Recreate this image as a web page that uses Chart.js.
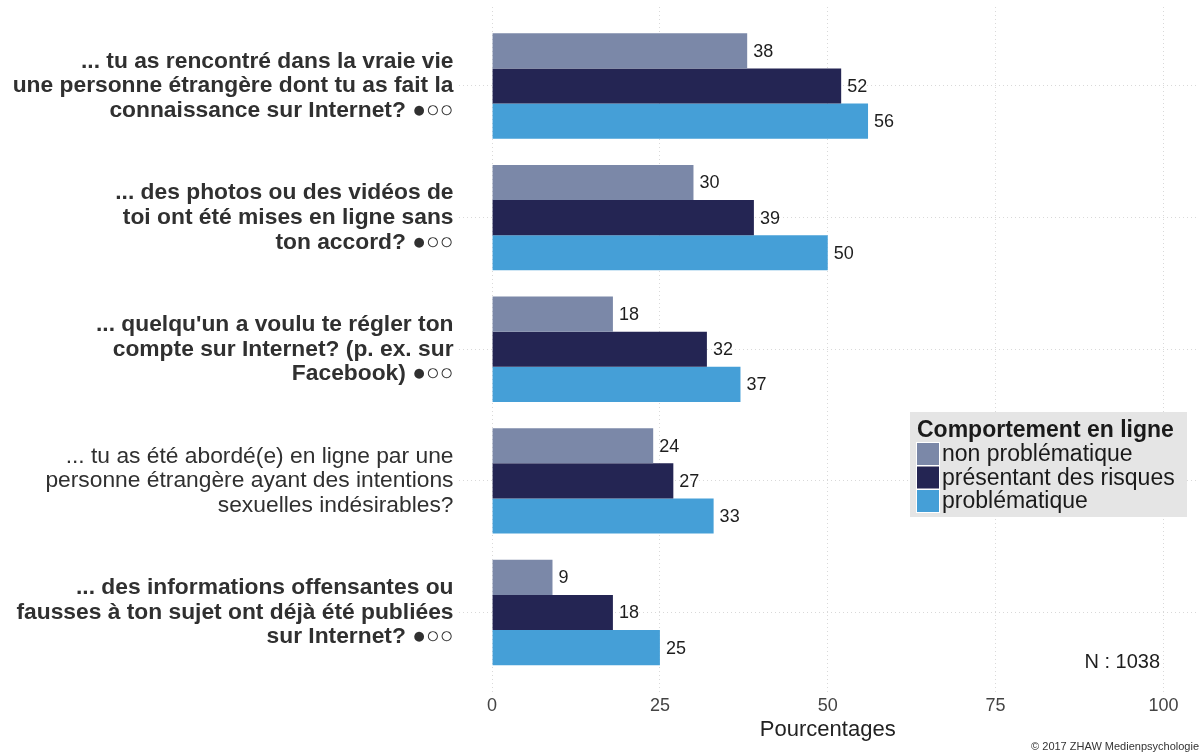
<!DOCTYPE html>
<html lang="fr">
<head>
<meta charset="utf-8">
<title>Comportement en ligne</title>
<script src="https://cdn.jsdelivr.net/npm/chart.js@4/dist/chart.umd.min.js"></script>
<style>
    html, body { margin: 0; padding: 0; background: #fff; }
    #wrap { width: 1203px; height: 754px; position: relative; }
</style>
</head>
<body>
<div id="wrap"><canvas id="chart" width="1203" height="754"></canvas></div>
<script>
// Questions (y axis), top to bottom
const questions = [
    ['... tu as rencontré dans la vraie vie', 'une personne étrangère dont tu as fait la', 'connaissance sur Internet? ●○○'],
    ['... des photos ou des vidéos de', 'toi ont été mises en ligne sans', 'ton accord? ●○○'],
    ["... quelqu'un a voulu te régler ton", 'compte sur Internet? (p. ex. sur', 'Facebook) ●○○'],
    ['... tu as été abordé(e) en ligne par une', 'personne étrangère ayant des intentions', 'sexuelles indésirables?'],
    ['... des informations offensantes ou', 'fausses à ton sujet ont déjà été publiées', 'sur Internet? ●○○']
];
// questions printed in regular weight (the rest are bold)
const plainQuestions = [3];

// Series (percentages)
const nonProblematique = [38, 30, 18, 24, 9];
const presentantRisques = [52, 39, 32, 27, 18];
const problematique = [56, 50, 37, 33, 25];

const seriesNames = ['non problématique', 'présentant des risques', 'problématique'];
const seriesColors = ['#7b88a8', '#242553', '#459fd7'];

const xTicks = [0, 25, 50, 75, 100];
const xTitle = 'Pourcentages';
const legendTitle = 'Comportement en ligne';
const sampleNote = 'N : 1038';
const credit = '© 2017 ZHAW Medienpsychologie';

const FONT = "'Liberation Sans', Arial, Helvetica, sans-serif";

function toPoints(values) {
    return values.map((v, i) => ({ x: v, y: i }));
}

// Value labels right of each bar
const valueLabels = {
    id: 'valueLabels',
    afterDatasetsDraw(chart) {
        const ctx = chart.ctx;
        ctx.save();
        ctx.font = '18px ' + FONT;
        ctx.fillStyle = '#1e1e1e';
        ctx.textAlign = 'left';
        ctx.textBaseline = 'middle';
        chart.data.datasets.forEach((ds, di) => {
            const meta = chart.getDatasetMeta(di);
            meta.data.forEach((bar, i) => {
                ctx.fillText(String(ds.data[i].x), bar.x + 6, bar.y + 1);
            });
        });
        ctx.restore();
    }
};

// ggplot-like legend box inside the panel, plus notes
const boxLegend = {
    id: 'boxLegend',
    afterDraw(chart) {
        const ctx = chart.ctx;
        const left = 910, top = 412;
        ctx.save();
        ctx.fillStyle = '#e5e5e5';
        ctx.fillRect(left, top, 277, 105);

        ctx.fillStyle = '#1a1a1a';
        ctx.textAlign = 'left';
        ctx.textBaseline = 'alphabetic';
        ctx.font = 'bold 23px ' + FONT;
        ctx.fillText(legendTitle, left + 7, top + 25);

        ctx.font = '23px ' + FONT;
        seriesNames.forEach((name, i) => {
            const y = top + 30 + i * 23.5;
            ctx.fillStyle = '#ffffff';
            ctx.fillRect(left + 6, y, 24, 24);
            ctx.fillStyle = seriesColors[i];
            ctx.fillRect(left + 7, y + 1, 22, 22);
            ctx.fillStyle = '#1a1a1a';
            ctx.fillText(name, left + 32, y + 19);
        });

        ctx.font = '20px ' + FONT;
        ctx.textAlign = 'right';
        ctx.textBaseline = 'middle';
        ctx.fillStyle = '#1e1e1e';
        ctx.fillText(sampleNote, 1160, 662);

        ctx.font = '11px ' + FONT;
        ctx.fillStyle = '#333';
        ctx.fillText(credit, 1199, 747);
        ctx.restore();
    }
};

const dotted = {
    color: '#d9d9d9',
    lineWidth: 1,
    drawTicks: false,
    offset: false
};

new Chart(document.getElementById('chart'), {
    type: 'bar',
    data: {
        datasets: [
            { label: seriesNames[0], data: toPoints(nonProblematique), backgroundColor: seriesColors[0] },
            { label: seriesNames[1], data: toPoints(presentantRisques), backgroundColor: seriesColors[1] },
            { label: seriesNames[2], data: toPoints(problematique), backgroundColor: seriesColors[2] }
        ]
    },
    options: {
        indexAxis: 'y',
        responsive: false,
        animation: false,
        layout: { padding: { top: 7, right: 6, left: 0, bottom: 0 } },
        datasets: {
            bar: { categoryPercentage: 0.8, barPercentage: 1.0, borderWidth: 0 }
        },
        plugins: {
            legend: { display: false },
            tooltip: { enabled: false }
        },
        scales: {
            x: {
                type: 'linear',
                min: -5,
                max: 105,
                afterBuildTicks: (axis) => { axis.ticks = xTicks.map(v => ({ value: v })); },
                afterFit: (axis) => {
                    axis.height = 62.5;
                    axis.paddingLeft = 0;
                    axis.paddingRight = 0;
                },
                border: { display: false, dash: [1, 3] },
                grid: dotted,
                ticks: {
                    padding: 4,
                    color: '#444',
                    font: { family: FONT, size: 18 }
                },
                title: {
                    display: true,
                    text: xTitle,
                    color: '#222',
                    font: { family: FONT, size: 22 },
                    padding: { top: 0, bottom: 11 }
                }
            },
            y: {
                type: 'linear',
                reverse: true,
                offset: false,
                min: -0.6,
                max: 4.6,
                afterBuildTicks: (axis) => { axis.ticks = questions.map((q, i) => ({ value: i })); },
                afterFit: (axis) => {
                    axis.width = 458.5;
                    axis.paddingTop = 0;
                    axis.paddingBottom = 0;
                },
                border: { display: false, dash: [1, 3] },
                grid: dotted,
                ticks: {
                    padding: 5,
                    color: '#303030',
                    autoSkip: false,
                    callback: (value) => questions[value],
                    font: (c) => ({
                        family: FONT,
                        size: 22.8,
                        lineHeight: 1.08,
                        weight: (c.tick && plainQuestions.includes(c.tick.value)) ? 'normal' : 'bold'
                    })
                }
            }
        }
    },
    plugins: [valueLabels, boxLegend]
});
</script>
</body>
</html>
